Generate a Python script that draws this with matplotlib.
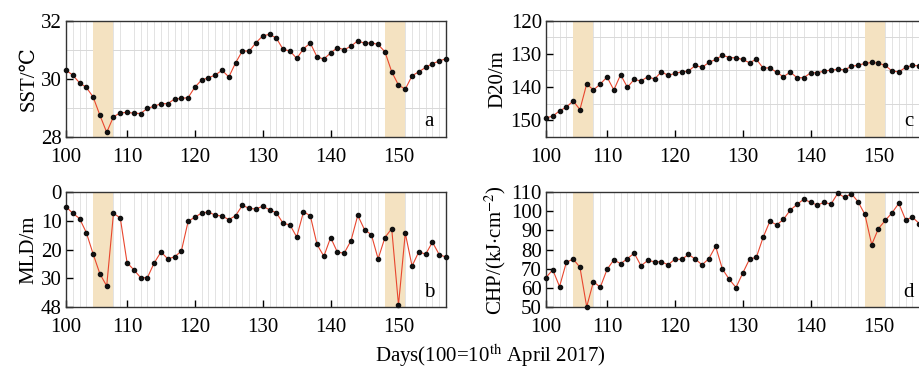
import matplotlib
matplotlib.use('Agg')
import matplotlib.pyplot as plt
import numpy as np

plt.rcParams['font.family'] = ['Liberation Serif', 'DejaVu Serif']
plt.rcParams['mathtext.fontset'] = 'stix'

# days 101..157 (one sample per day)
days = np.arange(101, 158)

sst = [30.30, 30.12, 29.86, 29.70, 29.37, 28.74, 28.15, 28.69, 28.82, 28.84,
       28.81, 28.80, 28.98, 29.05, 29.14, 29.14, 29.30, 29.32, 29.35, 29.71,
       29.96, 30.03, 30.13, 30.29, 30.06, 30.55, 30.96, 30.95, 31.24, 31.48,
       31.53, 31.40, 31.01, 30.96, 30.70, 31.03, 31.23, 30.75, 30.68, 30.89,
       31.07, 31.00, 31.12, 31.31, 31.22, 31.24, 31.18, 30.93, 30.24, 29.78,
       29.64, 30.10, 30.24, 30.39, 30.52, 30.61, 30.69]

mld = [5.1, 7.4, 9.2, 14.1, 21.5, 28.4, 32.6, 7.4, 9.0, 24.5,
       27.0, 29.7, 29.7, 24.6, 20.8, 23.2, 22.5, 20.5, 10.2, 8.7,
       7.3, 6.9, 8.1, 8.3, 9.6, 8.2, 4.6, 5.7, 5.9, 4.9,
       6.2, 7.2, 10.9, 11.4, 15.6, 6.9, 8.2, 18.2, 22.3, 15.8,
       20.9, 21.2, 16.9, 8.1, 13.1, 14.8, 23.2, 15.8, 12.7, 39.2,
       14.3, 25.7, 20.7, 21.6, 17.4, 21.7, 22.6]

d20 = [149.3, 148.8, 147.2, 146.1, 144.2, 146.8, 139.1, 140.9, 139.1, 137.0,
       140.9, 136.3, 140.1, 137.7, 138.2, 136.9, 137.6, 135.4, 136.5, 135.9,
       135.4, 135.2, 133.5, 134.1, 132.6, 131.7, 130.4, 131.1, 131.2, 131.7,
       132.7, 131.6, 134.3, 134.2, 135.6, 136.9, 135.5, 137.2, 137.2, 135.7,
       135.7, 135.2, 134.9, 134.7, 134.8, 133.8, 133.4, 132.9, 132.6, 132.8,
       133.5, 135.2, 135.4, 134.1, 133.5, 133.6, 133.5]

chp = [65.5, 69.5, 60.8, 73.4, 75.1, 70.9, 50.3, 63.4, 60.4, 69.7,
       74.7, 72.7, 75.3, 78.2, 71.6, 74.4, 73.7, 73.7, 72.1, 75.1,
       74.9, 77.5, 75.1, 72.1, 75.3, 81.7, 69.9, 64.6, 60.3, 67.8,
       75.1, 76.0, 86.4, 94.8, 92.9, 95.7, 100.6, 103.5, 106.3, 104.6,
       103.2, 104.6, 103.7, 109.3, 107.2, 109.1, 104.9, 98.3, 82.6, 91.0,
       95.2, 99.2, 104.1, 95.5, 96.9, 93.6, 93.0]

# typhoon periods (shaded)
events = [(105, 108), (148, 151)]

xticks = [101, 110, 120, 130, 140, 150]
xticklabels = ['100', '110', '120', '130', '140', '150']

fig = plt.figure(figsize=(9.19, 3.72), dpi=100)

w = 0.4135
axes_pos = {
    'a': [0.0718, 0.6325, w, 0.3118],
    'c': [0.5941, 0.6325, w, 0.3118],
    'b': [0.0718, 0.1739, w, 0.3100],
    'd': [0.5941, 0.1739, w, 0.3100],
}

panels = [
    ('a', sst, 'SST/℃', (28, 32), [28, 30, 32], ['28', '30', '32'], [29, 30, 31]),
    ('b', mld, 'MLD/m', (40, 0), [0, 10, 20, 30, 40], ['0', '10', '20', '30', '48'], [10, 20, 30]),
    ('c', d20, 'D20/m', (155, 120), [120, 130, 140, 150], ['120', '130', '140', '150'],
     [125, 130, 135, 140, 145, 150]),
    ('d', chp, 'CHP/(kJ$\\cdot$cm$^{-2}$)', (50, 110), [50, 60, 70, 80, 90, 100, 110],
     ['50', '60', '70', '80', '90', '100', '110'], [60, 70, 80, 90, 100]),
]

for tag, vals, ylab, ylim, yt, ytl, ygrid in panels:
    ax = fig.add_axes(axes_pos[tag])
    for x0, x1 in events:
        ax.axvspan(x0, x1, color='#f4e2c1', lw=0, zorder=1)
    ax.plot(days, vals, '-', color='#e8462e', lw=0.8, zorder=3)
    ax.plot(days, vals, 'o', color='#111111', ms=3.0, zorder=4, clip_on=False)
    ax.set_xlim(101, 157)
    ax.set_ylim(*ylim)
    ax.set_xticks(xticks)
    ax.set_xticklabels(xticklabels)
    ax.set_xticks(days, minor=True)
    ax.set_yticks(yt)
    ax.set_yticklabels(ytl)
    ax.set_yticks(ygrid, minor=True)
    ax.grid(which='minor', axis='x', color='#dedede', lw=0.6, zorder=0)
    ax.grid(which='minor', axis='y', color='#d8d8d8', lw=0.7, zorder=0)
    ax.set_axisbelow(True)
    ax.tick_params(which='major', direction='in', length=5, width=1, labelsize=15,
                   top=False, right=False)
    ax.tick_params(axis='x', which='major', pad=8)
    ax.tick_params(axis='y', which='major', pad=3)
    ax.tick_params(which='minor', length=0)
    for s in ax.spines.values():
        s.set_color('#333333')
        s.set_linewidth(1.0)
    ax.set_ylabel(ylab, fontsize=15, labelpad=2)
    ax.text(0.955, 0.13, tag, transform=ax.transAxes, fontsize=15,
            ha='center', va='center')

fig.text(0.533, 0.045, 'Days(100=10$^{\\mathrm{th}}$ April 2017)', fontsize=15,
         ha='center', va='center')

fig.savefig('out.png', dpi=100)
